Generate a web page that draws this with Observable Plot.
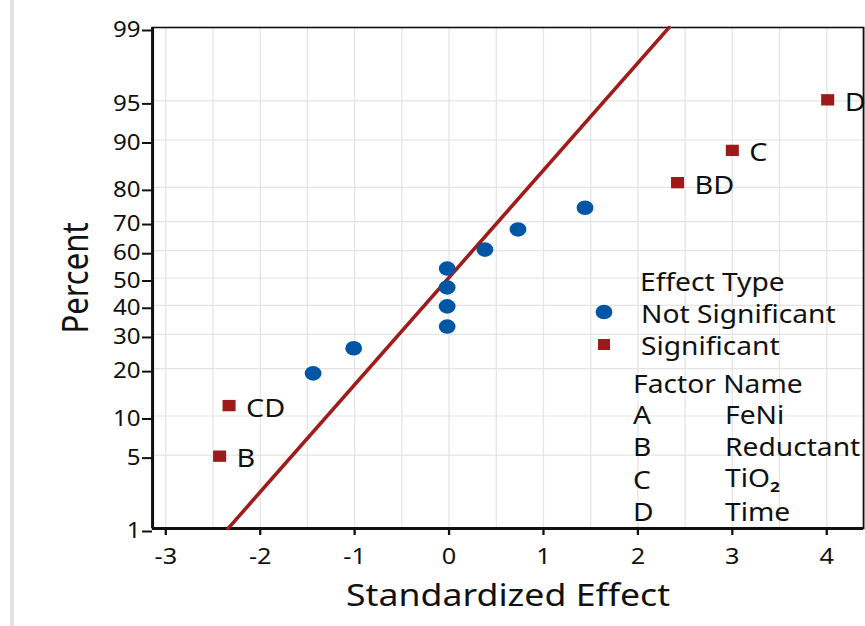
<!DOCTYPE html>
<html>
<head>
<meta charset="utf-8">
<script src="https://cdn.jsdelivr.net/npm/d3@7"></script>
<script src="https://cdn.jsdelivr.net/npm/@observablehq/plot@0.6"></script>
<style>
  html, body { margin: 0; padding: 0; background: #fff; }
  #wrap { position: relative; width: 865px; height: 626px; overflow: hidden; font-family: "Noto Sans", "Open Sans", sans-serif; color: #111; }
  #edge { position: absolute; left: 10px; top: 0; width: 4px; height: 626px; background: #e2e2e2; }
  #chart { position: absolute; left: 0; top: 0; }
  #legend { position: absolute; left: 0; top: 0; width: 865px; height: 626px; pointer-events: none; font-size: 24.5px; }
  #legend .t { position: absolute; white-space: nowrap; line-height: 1; transform-origin: 0 50%; }
  #legend sub { font-size: 15px; font-weight: bold; vertical-align: -5px; }
</style>
</head>
<body>
<div id="wrap">
  <div id="edge"></div>
  <div id="chart"></div>
  <div id="legend"></div>
</div>
<script>
// ---------- data ----------
const effectLabels  = ["B", "CD", "", "", "", "", "", "", "", "", "", "BD", "C", "D"];
const effectValues  = [-2.43, -2.33, -1.44, -1.01, -0.02, -0.02, -0.02, -0.02, 0.38, 0.73, 1.44, 2.42, 3.00, 4.01];
const effectPercent = [4.9, 11.8, 18.8, 25.7, 32.6, 39.6, 46.5, 53.5, 60.4, 67.4, 74.3, 81.2, 88.2, 95.1];
const effectTypes   = ["Significant", "Significant", "Not Significant", "Not Significant", "Not Significant",
                       "Not Significant", "Not Significant", "Not Significant", "Not Significant", "Not Significant",
                       "Not Significant", "Significant", "Significant", "Significant"];
const refLineEffect  = [-2.34, 2.33];
const refLinePercent = [1, 99];
const yTickPercents = [1, 5, 10, 20, 30, 40, 50, 60, 70, 80, 90, 95, 99];
const xTickValues   = [-3, -2, -1, 0, 1, 2, 3, 4];
const factorCodes = ["A", "B", "C", "D"];
const factorNames = ["FeNi", "Reductant", "TiO<sub>2</sub>", "Time"];
const typeNames = ["Not Significant", "Significant"];
const typeColors = ["#0055a5", "#9c1a1a"];

// inverse normal CDF (Acklam) for the probability axis
function probit(p) {
  const a = [-3.969683028665376e+01, 2.209460984245205e+02, -2.759285104469687e+02, 1.383577518672690e+02, -3.066479806614716e+01, 2.506628277459239e+00];
  const b = [-5.447609879822406e+01, 1.615858368580409e+02, -1.556989798598866e+02, 6.680131188771972e+01, -1.328068155288572e+01];
  const c = [-7.784894002430293e-03, -3.223964580411365e-01, -2.400758277161838e+00, -2.549732539343734e+00, 4.374664141464968e+00, 2.938163982698783e+00];
  const d = [7.784695709041462e-03, 3.224671290700398e-01, 2.445134137142996e+00, 3.754408661907416e+00];
  const pl = 0.02425, ph = 1 - pl;
  let q, r;
  if (p < pl) {
    q = Math.sqrt(-2 * Math.log(p));
    return (((((c[0]*q+c[1])*q+c[2])*q+c[3])*q+c[4])*q+c[5]) / ((((d[0]*q+d[1])*q+d[2])*q+d[3])*q+1);
  } else if (p <= ph) {
    q = p - 0.5; r = q * q;
    return (((((a[0]*r+a[1])*r+a[2])*r+a[3])*r+a[4])*r+a[5])*q / (((((b[0]*r+b[1])*r+b[2])*r+b[3])*r+b[4])*r+1);
  } else {
    q = Math.sqrt(-2 * Math.log(1 - p));
    return -(((((c[0]*q+c[1])*q+c[2])*q+c[3])*q+c[4])*q+c[5]) / ((((d[0]*q+d[1])*q+d[2])*q+d[3])*q+1);
  }
}

const points = effectValues.map((v, i) => ({
  effect: v, z: probit(effectPercent[i] / 100), label: effectLabels[i], type: effectTypes[i]
}));
const notSig = points.filter(d => d.type === "Not Significant");
const sig = points.filter(d => d.type === "Significant");
const refLine = refLineEffect.map((v, i) => ({effect: v, z: probit(refLinePercent[i] / 100)}));
const yTicks = yTickPercents.map(p => probit(p / 100));
const tickLabel = new Map(yTicks.map((t, i) => [t, String(yTickPercents[i])]));
const xDomain = [-3.14, 4.39];
const yDomain = [probit(0.01), probit(0.99)];
const xGrid = d3.range(-3, 4.5, 0.5);

// the reference picture is stretched horizontally; draw narrower and stretch the SVG
const OUT_W = 865, OUT_H = 626, W = 752;
const S = OUT_W / W;

const chart = Plot.plot({
  width: W,
  height: OUT_H,
  marginLeft: 152 / S,
  marginRight: 2 / S,
  marginTop: 27,
  marginBottom: 98,
  style: {fontFamily: '"Noto Sans", "Open Sans", sans-serif', color: "#111", background: "transparent"},
  x: {domain: xDomain},
  y: {domain: yDomain},
  marks: [
    Plot.gridX(xGrid, {stroke: "#e4e4e4", strokeOpacity: 1, strokeWidth: 1.1}),
    Plot.gridY(yTicks, {stroke: "#e4e4e4", strokeOpacity: 1, strokeWidth: 1.2}),
    Plot.frame({stroke: "#111", strokeWidth: 1.6}),
    Plot.ruleX([xDomain[0]], {stroke: "#111", strokeWidth: 2.6}),
    Plot.ruleY([yDomain[0]], {stroke: "#111", strokeWidth: 3}),
    Plot.axisX(xTickValues, {tickSize: 7, tickPadding: 13, fontSize: 22, strokeWidth: 2, label: null, fill: "#111",
      tickFormat: d => d < 0 ? "-" + Math.abs(d) : String(d)}),
    Plot.axisY(yTicks, {tickSize: 10 / S, tickPadding: 2 / S, fontSize: 21, strokeWidth: 2, label: null, dy: 3, fill: "#111",
      tickFormat: d => tickLabel.get(d)}),
    Plot.text(["Standardized Effect"], {frameAnchor: "bottom", dy: 77, fontSize: 31, fill: "#111"}),
    Plot.text(["Percent"], {frameAnchor: "left", textAnchor: "middle", dx: -66.5, rotate: -90, fontSize: 31, fill: "#111"}),
    Plot.line(refLine, {x: "effect", y: "z", stroke: "#a01c1c", strokeWidth: 3.3}),
    Plot.dot(notSig, {x: "effect", y: "z", r: 7.3, fill: typeColors[0], stroke: "none"}),
    Plot.dot(sig, {x: "effect", y: "z", symbol: "square", r: 6.4, fill: typeColors[1], stroke: "none"}),
    Plot.text(sig, {x: "effect", y: "z", text: "label", dx: 17 / S, dy: 3, textAnchor: "start", fontSize: 25, fill: "#111"})
  ]
});
chart.setAttribute("width", OUT_W);
chart.setAttribute("height", OUT_H);
chart.setAttribute("viewBox", `0 0 ${W} ${OUT_H}`);
chart.setAttribute("preserveAspectRatio", "none");
chart.style.width = OUT_W + "px";
chart.style.height = OUT_H + "px";
chart.style.maxWidth = "none";
chart.style.overflow = "visible";
document.getElementById("chart").appendChild(chart);

// legend overlay (text stretched like the rest of the picture)
const lg = document.getElementById("legend");
function addText(html, x, y) {
  const el = document.createElement("div");
  el.className = "t"; el.innerHTML = html;
  el.style.left = x + "px"; el.style.top = y + "px";
  el.style.transform = `translateY(-50%) scaleX(${S})`;
  lg.appendChild(el);
}
addText("Effect Type", 640, 282);
const sw = document.createElementNS("http://www.w3.org/2000/svg", "svg");
sw.setAttribute("width", OUT_W); sw.setAttribute("height", OUT_H);
sw.style.position = "absolute"; sw.style.left = "0"; sw.style.top = "0";
sw.innerHTML = `<ellipse cx="604" cy="312" rx="${7.3 * S}" ry="7.3" fill="${typeColors[0]}"/>` +
               `<rect x="598" y="339" width="12" height="11" fill="${typeColors[1]}"/>`;
lg.appendChild(sw);
addText(typeNames[0], 641, 314);
addText(typeNames[1], 641, 346);
addText("Factor Name", 633, 384);
const rowY = [415, 447, 480, 512];
factorCodes.forEach((c, i) => {
  addText(c, 633, rowY[i]);
  addText(factorNames[i], 725, rowY[i]);
});
</script>
</body>
</html>
